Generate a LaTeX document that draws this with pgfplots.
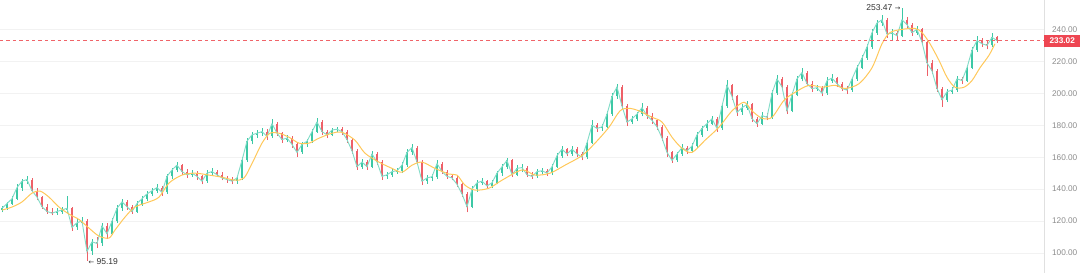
\documentclass[border=0pt]{standalone}
\usepackage{pgfplots}
\pgfplotsset{compat=1.18}
\usepackage{pgfplotstable}
\usepackage{fontspec}
\setmainfont{Liberation Sans}
\newfontfamily\symfont{DejaVu Sans}
\definecolor{upc}{RGB}{60,200,165}
\definecolor{downc}{RGB}{238,96,104}
\definecolor{linec}{RGB}{130,220,200}
\definecolor{mac}{RGB}{255,200,90}
\definecolor{dashc}{RGB}{240,100,105}
\definecolor{boxc}{RGB}{238,70,82}

\pgfplotstableread{
i o h l c
0 127 129.5 125.5 128
1 128 132 127 131
2 131 135.5 130 134
3 134 143 133 141
4 141 146.5 139 145
5 145 148.5 143 146
6 146 147 138 139
7 139 141 133 135
8 135 136 127.5 129
9 129 131 124.5 126
10 126 128 123.5 125
11 125 128 124 126
12 126 129 124.5 127
13 127 136 125 128
14 128 129 114 116
15 116 121 114.5 119
16 119 122.5 117.5 120
17 120 121 95.19 101
18 101 109 99 107
19 107 110 103 106
20 106 119 104.5 117
21 117 118.5 109 112
22 112 122 111 120
23 120 130 118.5 128
24 128 134 126.5 132
25 132 133.5 127 129
26 129 130 124.5 126
27 126 132.5 125 131
28 131 135.5 129.5 134
29 134 139 132.5 137
30 137 141 135.5 139
31 139 143 137.5 141
32 141 142 136 138
33 138 149.5 137 148
34 148 153.5 146.5 152
35 152 157 150.5 155
36 155 156 149 151
37 151 152.5 147 149
38 149 152 147.5 150
39 150 151.5 146 148
40 148 149 143 145
41 145 152 144 150
42 150 153 148.5 151
43 151 152 147.5 149
44 149 150.5 145.5 147
45 147 148.5 144 146
46 146 147.5 143 145
47 145 148.5 143.5 147
48 147 160 146 158
49 158 172 157 170
50 170 176 168 174
51 174 177 172 175
52 175 178 173.5 176
53 176 177.5 171 173
54 173 184 172 181
55 181 182 173.5 175
56 175 176 169 171
57 171 174 169.5 172
58 172 173 166 168
59 168 169 160 163
60 163 169.5 162 168
61 168 171.5 166.5 170
62 170 177.5 169 176
63 176 184.5 175 182
64 182 183 174 176
65 176 177 172 174
66 174 178.5 173 177
67 177 179 175.5 177.5
68 177.5 179 174 176
69 176 177 169 171
70 171 172 162 164
71 164 165 152 154
72 154 159 152.5 157
73 157 158.5 152 154
74 154 164 153 162
75 162 163 155 157
76 157 158 146 148
77 148 151 146.5 149
78 149 152.5 147.5 151
79 151 153 149.5 151.5
80 151.5 157 150 155
81 155 165 154 163
82 163 168 161.5 166
83 166 167 155 157
84 157 158 142.5 145
85 145 149 143.5 147
86 147 149.5 145 147.8
87 147.8 158 146.5 156
88 156 157 149.5 151
89 151 152 146.5 148
90 148 149.5 145.5 147
91 147 148 141.5 143
92 143 144 135 137
93 137 138 125.5 129
94 129 142 128 140
95 140 145.5 138.5 144
96 144 147 142.5 145
97 145 146 140.5 142
98 142 145.5 140.5 144
99 144 151.5 143 150
100 150 156 148.5 154
101 154 159.5 152.5 158
102 158 159 147.5 149
103 149 155 148 153
104 153 155.5 151 153.5
105 153.5 154.5 147.5 149
106 149 150.5 146.5 148
107 148 152.5 147 151
108 151 153 149.5 151.5
109 151.5 152.5 148.5 150
110 150 155.5 149 154
111 154 162.5 153 161
112 161 167 159.5 165
113 165 166 160.5 162
114 162 167 161 165
115 165 166.5 160 162
116 162 163 158 160
117 160 171 159 169
118 169 183 168 180
119 180 181.5 176 178
120 178 181 176.5 179
121 179 189 178 187
122 187 200 186 198
123 198 206 196.5 204
124 204 205 190 192
125 192 193 179.5 182
126 182 186 180.5 184
127 184 188.5 182.5 187
128 187 194 185.5 191
129 191 192 184 186
130 186 187.5 181 183
131 183 184 177 179
132 179 180 170 172
133 172 173 160 163
134 163 164 156.5 158
135 158 163.5 157 162
136 162 168 161 166
137 166 167 162 164
138 164 169 163 167
139 167 175.5 166 174
140 174 179.5 172.5 178
141 178 183 176.5 181
142 181 186 180 184
143 184 185 176 178
144 178 194 177 192
145 192 208.5 191 205
146 205 206 196 198
147 198 199 186 188
148 188 193 186.5 191
149 191 195 189.5 193
150 193 194 182 184
151 184 185 179 181
152 181 188 180 186
153 186 187.5 183 185
154 185 202 184 200
155 200 211.5 199 209
156 209 210 202 204
157 204 205 187 189
158 189 201 188 199
159 199 211 198 209
160 209 216 207.5 213
161 213 214 204.5 206
162 206 207.5 201 203
163 203 205.5 201.5 203.5
164 203.5 204.5 198 200
165 200 210 199 208
166 208 212 206.5 209.5
167 209.5 210.5 204 206
168 206 207 201.5 203
169 203 204.5 199.5 202
170 202 210.5 201 209
171 209 218 208 216
172 216 224 215 222
173 222 231 221 229
174 229 240 228 238
175 238 246 236.5 244
176 244 249 242 246
177 246 247 234.5 237
178 237 240 233 237.8
179 237.8 239 233.5 236
180 236 253.47 235 246
181 246 248 241 243
182 243 244 236 238
183 238 242 236.5 240
184 240 241 230 232
185 232 233 211 219
186 219 221 212 214
187 214 215 201 203
188 203 204 191.5 196
189 196 203 194.5 201
190 201 204 199.5 202
191 202 211 201 209
192 209 210.5 206 208
193 208 218 207 216
194 216 229 215 227
195 227 236 226 233
196 233 234.5 229 231
197 231 233 227.5 230
198 230 237.5 229 235
199 235 236 231.5 233.02
}\candles

\pgfplotstableread{
x m
0 126.9
2 128.8
4 132
6 137.5
7.6 138.8
9.4 135
11.4 128.8
13.4 124.4
15.4 121
17.4 115.6
19.4 110.6
21.4 109.4
22.6 114.4
24.6 122.5
26.6 128.8
29.4 132
31.4 135
33.4 143.8
36 148.8
38.6 150
41.4 148.8
44 147.5
46.6 145.6
48.4 147
50 156
52 168.8
53.6 175
55.4 175
57.4 172.5
59.4 168.8
61.4 168.8
63.4 171.9
66 175
68 175.6
70.6 170.6
72.6 162.5
75.4 156.9
78 153
80 150.6
82 155
84 156.9
86.6 153
89.4 149.4
91 148.8
92.6 142.5
94.6 139.4
97.4 140.6
100 145.6
104 152
106.6 148.8
109.6 150
112.6 155
116 161
118.6 168.8
121.4 178.8
123.6 189
125.4 190.6
127.4 189
130 185
132 182
134 172.5
136 165.6
138 163
140.6 170.6
143.4 178.8
146 189
148.4 194.4
150 189
152 184.4
154 185
156.4 195.6
158.6 200.6
161.4 205
164 203.8
166.6 205
168.6 203
171.4 206
174 216
176 231
177.6 238
180 240
182.6 240.6
184 238
185.6 231
187.4 220.6
189 210
190.6 203.8
192.4 203.8
194 208
195.6 216
197.4 223.8
198.6 231
}\ma

\begin{document}
\begin{tikzpicture}
\useasboundingbox (0,0) rectangle (810pt,204.75pt);
\begin{axis}[
  at={(0,0)}, anchor=south west,
  scale only axis, width=783pt, height=204.75pt,
  xmin=-0.4, xmax=208.4, ymin=87.5, ymax=258.4,
  axis x line=none, axis y line*=right,
  y axis line style={draw=black!12, line width=0.5pt},
  xtick=\empty, ytick={100,120,...,240},
  major tick length=0pt,
  ymajorgrids, grid style={draw=black!5, line width=0.4pt},
  scaled y ticks=false,
  yticklabel style={font=\fontsize{6.2}{7}\selectfont, text=black!45,
    /pgf/number format/fixed, /pgf/number format/fixed zerofill,
    /pgf/number format/precision=2, /pgf/number format/assume math mode=true,
    xshift=2.5pt},
  every axis plot/.append style={line cap=butt},
]
% wicks
\addplot[draw=none, mark=none, forget plot,
  error bars/.cd, y dir=plus, y explicit, error mark=none,
  error bar style={draw=upc, line width=0.55pt}]
  table[x=i, y expr={\thisrow{c}>=\thisrow{o} ? \thisrow{l} : 1000},
        y error plus expr={\thisrow{h}-\thisrow{l}}] {\candles};
\addplot[draw=none, mark=none, forget plot,
  error bars/.cd, y dir=plus, y explicit, error mark=none,
  error bar style={draw=downc, line width=0.55pt}]
  table[x=i, y expr={\thisrow{c}<\thisrow{o} ? \thisrow{l} : 1000},
        y error plus expr={\thisrow{h}-\thisrow{l}}] {\candles};
% bodies
\addplot[draw=none, mark=none, forget plot,
  error bars/.cd, y dir=plus, y explicit, error mark=none,
  error bar style={draw=upc, line width=2pt}]
  table[x=i, y expr={\thisrow{c}>=\thisrow{o} ? \thisrow{o} : 1000},
        y error plus expr={max(\thisrow{c}-\thisrow{o},0.6)}] {\candles};
\addplot[draw=none, mark=none, forget plot,
  error bars/.cd, y dir=plus, y explicit, error mark=none,
  error bar style={draw=downc, line width=2pt}]
  table[x=i, y expr={\thisrow{c}<\thisrow{o} ? \thisrow{c} : 1000},
        y error plus expr={max(\thisrow{o}-\thisrow{c},0.6)}] {\candles};
% close line
\addplot[linec, line width=0.7pt, mark=none] table[x=i, y=c] {\candles};
% moving average
\addplot[mac, line width=0.75pt, mark=none, smooth] table[x=x, y=m] {\ma};
% last price line
\addplot[dashc, line width=0.5pt, dash pattern=on 2.6pt off 2.2pt, mark=none]
  coordinates {(-0.4,233.02) (208.4,233.02)};
\coordinate (lbl) at (axis cs:208.4,233.02);
\coordinate (hi) at (axis cs:180,253.47);
\coordinate (lo) at (axis cs:17,95.19);
\end{axis}
\node[fill=boxc, text=white, font=\fontsize{6.2}{7}\selectfont\bfseries,
  anchor=west, minimum width=27pt, minimum height=9pt, inner sep=0pt] at (lbl) {233.02};
\node[anchor=east, font=\fontsize{6.4}{7}\selectfont, text=black!80, inner sep=0.5pt]
  at ([xshift=-0.5pt,yshift=0.5pt]hi) {253.47 {\symfont\fontsize{5}{6}\selectfont →}};
\node[anchor=west, font=\fontsize{6.4}{7}\selectfont, text=black!80, inner sep=0.5pt]
  at ([xshift=0.5pt,yshift=-1pt]lo) {{\symfont\fontsize{5}{6}\selectfont ←} 95.19};
\end{tikzpicture}
\end{document}
